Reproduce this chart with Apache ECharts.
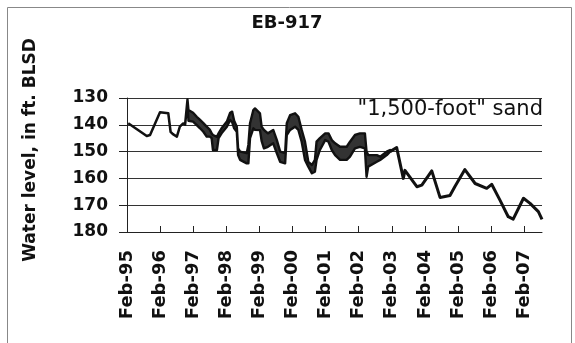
<!DOCTYPE html>
<html>
<head>
<meta charset="utf-8">
<script src="https://cdn.jsdelivr.net/npm/echarts@6/dist/echarts.min.js"></script>
<style>
  html, body { margin: 0; padding: 0; background: #fff; }
  #chart { width: 575px; height: 343px; }
</style>
</head>
<body>
<div id="chart"></div>
<script>
// Well EB-917, "1,500-foot" sand: depth to water, ft below land surface.
// Dates are decimal years.

// Quarterly/periodic readings, 1995-1996
const earlyDates  = [1995.12, 1995.68, 1995.78, 1996.08, 1996.33, 1996.40, 1996.47, 1996.59, 1996.68, 1996.78, 1996.84];
const earlyLevels = [139.4,   144.2,   143.8,   135.3,   135.7,   142.6,   143.5,   144.4,   140.7,   139.5,   139.7];

// Recorder period, 1996-2003: daily range (shallowest / deepest level)
const bandDates = [1996.84, 1996.91, 1996.94, 1997.08, 1997.19, 1997.29, 1997.39, 1997.49, 1997.59, 1997.64,
                   1997.68, 1997.80, 1997.85, 1997.94, 1998.10, 1998.20, 1998.26, 1998.32, 1998.40, 1998.44,
                   1998.50, 1998.70, 1998.75, 1998.80, 1998.90, 1998.95, 1999.10, 1999.15, 1999.22, 1999.34,
                   1999.50, 1999.61, 1999.71, 1999.86, 1999.91, 2000.01, 2000.16, 2000.26, 2000.36, 2000.46,
                   2000.56, 2000.67, 2000.76, 2000.81, 2000.91, 2001.07, 2001.17, 2001.27, 2001.37, 2001.52,
                   2001.72, 2001.82, 2001.97, 2002.12, 2002.27, 2002.32, 2002.37, 2002.63, 2002.73, 2002.93,
                   2003.03];
const bandHigh  = [139.5, 130.5, 134.5, 135.5, 137.0, 138.2, 139.4, 140.7, 141.9, 143.2,
                   143.8, 144.5, 143.2, 141.3, 138.8, 135.5, 135.1, 138.5, 140.7, 148.8,
                   150.0, 150.6, 147.5, 139.4, 134.5, 133.9, 135.7, 140.7, 141.9, 143.2,
                   141.9, 145.7, 150.0, 150.6, 139.4, 136.4, 135.7, 137.0, 141.9, 146.3,
                   153.8, 155.0, 153.1, 146.3, 145.0, 143.2, 143.2, 145.7, 146.9, 148.2,
                   148.2, 146.3, 143.8, 143.2, 143.2, 150.0, 151.3, 151.3, 151.9, 150.0,
                   149.4];
const bandLow   = [140.0, 131.5, 138.5, 138.8, 140.1, 141.3, 142.6, 144.4, 144.4, 145.0,
                   149.4, 149.4, 145.0, 143.2, 140.7, 138.2, 139.0, 141.3, 142.6, 151.3,
                   153.1, 154.4, 154.4, 145.0, 141.3, 141.9, 142.0, 146.0, 148.8, 148.2,
                   146.9, 150.6, 153.8, 154.4, 143.8, 141.9, 140.7, 141.9, 146.3, 153.1,
                   155.6, 158.1, 157.5, 153.1, 149.4, 145.7, 146.3, 149.4, 151.3, 153.1,
                   153.1, 151.9, 148.8, 148.2, 148.8, 159.4, 155.6, 153.8, 153.1, 151.3,
                   150.0];

// Periodic readings, 2003-2007
const lateDates  = [2003.03, 2003.23, 2003.43, 2003.48, 2003.53, 2003.84, 2003.99, 2004.29, 2004.54, 2004.84,
                    2004.99, 2005.29, 2005.60, 2005.95, 2006.10, 2006.35, 2006.60, 2006.75, 2007.06, 2007.26,
                    2007.51, 2007.62];
const lateLevels = [150.0, 148.5, 160.0, 157.0, 157.5, 163.1, 162.5, 157.2, 167.1, 166.4,
                    163.0, 156.7, 161.9, 163.7, 162.2, 168.1, 174.3, 175.2, 167.4, 169.3,
                    172.4, 175.3];

const yTicks = [130, 140, 150, 160, 170, 180];
const yearLabels = ['Feb-95', 'Feb-96', 'Feb-97', 'Feb-98', 'Feb-99', 'Feb-00', 'Feb-01',
                    'Feb-02', 'Feb-03', 'Feb-04', 'Feb-05', 'Feb-06', 'Feb-07'];

// x axis runs in years counted from February 1995
const AXIS_START = 1995 + 1 / 12;
const AXIS_END = 2007.62;
const toAxis = (t) => t - AXIS_START;

const FONT = 'DejaVu Sans';

const chart = echarts.init(document.getElementById('chart'), null, { renderer: 'canvas' });

chart.setOption({
  backgroundColor: '#ffffff',
  animation: false,
  grid: { left: 127, right: 33, top: 98, bottom: 111, containLabel: false },
  xAxis: {
    type: 'value',
    min: 0,
    max: toAxis(AXIS_END),
    interval: 1,
    axisLine: { onZero: false, lineStyle: { color: '#222', width: 1 } },
    axisTick: { inside: true, length: 6, lineStyle: { color: '#222' } },
    splitLine: { show: false },
    axisLabel: {
      rotate: 90,
      margin: 18,
      color: '#111',
      fontFamily: FONT,
      fontWeight: 'bold',
      fontSize: 18,
      showMaxLabel: false,
      formatter: (v) => yearLabels[Math.round(v)] || ''
    }
  },
  yAxis: {
    type: 'value',
    inverse: true,
    min: yTicks[0],
    max: yTicks[yTicks.length - 1],
    interval: 10,
    axisLine: { show: true, lineStyle: { color: '#222', width: 1 } },
    axisTick: { show: true, length: 8, lineStyle: { color: '#222' } },
    splitLine: { show: true, lineStyle: { color: '#333', width: 1 } },
    axisLabel: {
      margin: 19,
      color: '#111',
      fontFamily: FONT,
      fontWeight: 'bold',
      fontSize: 17
    }
  },
  graphic: [
    {
      type: 'rect',
      silent: true,
      shape: { x: 7.5, y: 7.5, width: 564, height: 345 },
      style: { fill: 'none', stroke: '#888', lineWidth: 1 }
    },
    {
      type: 'text',
      silent: true,
      x: 287, y: 23,
      style: {
        text: 'EB-917', fill: '#111', font: 'bold 18px "' + FONT + '"',
        textAlign: 'center', textVerticalAlign: 'middle'
      }
    },
    {
      type: 'text',
      silent: true,
      x: 31, y: 150,
      rotation: Math.PI / 2,
      style: {
        text: 'Water level, in ft. BLSD', fill: '#111', font: 'bold 17px "' + FONT + '"',
        textAlign: 'center', textVerticalAlign: 'middle'
      }
    },
    {
      type: 'text',
      silent: true,
      x: 543, y: 110,
      style: {
        text: '"1,500-foot" sand', fill: '#111', font: '21px "' + FONT + '"',
        textAlign: 'right', textVerticalAlign: 'middle'
      }
    }
  ],
  series: [
    {
      type: 'line',
      data: earlyDates.map((t, i) => [toAxis(t), earlyLevels[i]]),
      showSymbol: false,
      lineStyle: { color: '#111', width: 2.5, join: 'round' }
    },
    {
      // daily range drawn as a filled band between shallowest and deepest level
      type: 'custom',
      data: bandDates.map((t, i) => [toAxis(t), bandHigh[i], bandLow[i]]),
      renderItem: (params, api) => {
        if (params.dataIndex !== 0) return null;
        const pts = [];
        for (let i = 0; i < bandDates.length; i++) {
          pts.push(api.coord([toAxis(bandDates[i]), bandHigh[i]]));
        }
        for (let i = bandDates.length - 1; i >= 0; i--) {
          pts.push(api.coord([toAxis(bandDates[i]), bandLow[i]]));
        }
        return {
          type: 'polygon',
          shape: { points: pts },
          style: { fill: '#333', stroke: '#111', lineWidth: 2.4, lineJoin: 'round' }
        };
      }
    },
    {
      type: 'line',
      data: lateDates.map((t, i) => [toAxis(t), lateLevels[i]]),
      showSymbol: false,
      lineStyle: { color: '#111', width: 3, join: 'round' }
    }
  ]
});
</script>
</body>
</html>
